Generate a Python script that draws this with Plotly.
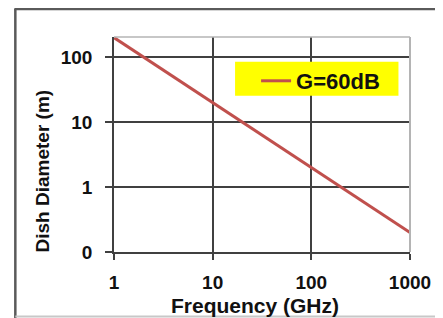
import plotly.graph_objects as go

# ---- data ----
freq_ghz = [1, 10, 100, 1000]
diameter_m = [200, 20, 2, 0.2]
series_name = "G=60dB"
x_tick_vals = [1, 10, 100, 1000]
x_tick_text = ["1", "10", "100", "1000"]
y_tick_vals = [0.1, 1, 10, 100]
y_tick_text = ["0", "1", "10", "100"]
x_title = "Frequency (GHz)"
y_title = "Dish Diameter (m)"

# ---- layout geometry (page has an 8px body margin) ----
OFF = 8
W, H = 435, 310
ML, MR, MT, MB = 106, 29, 29, 66
PW, PH = W - ML - MR, H - MT - MB

def px_x(px):
    return (px - OFF - ML) / PW

def px_y(py):
    return (H - MB - (py - OFF)) / PH

FONT = "Liberation Sans, Arial, sans-serif"
GRID = "#404040"

fig = go.Figure()
fig.add_trace(go.Scatter(
    x=freq_ghz, y=diameter_m, mode="lines", name=series_name,
    line=dict(color="#C0504D", width=3),
))

shapes = [
    # yellow legend box
    dict(type="rect", xref="paper", yref="paper",
         x0=px_x(236.7), x1=px_x(402.3), y0=px_y(95.7), y1=px_y(61.7),
         fillcolor="#FFFF00", line=dict(width=0), layer="above"),
    # light top/right frame of plot area
    dict(type="line", xref="paper", yref="paper", x0=0, x1=1, y0=1, y1=1,
         line=dict(color="#b4b4b4", width=1.5), layer="above"),
    dict(type="line", xref="paper", yref="paper", x0=1, x1=1, y0=0, y1=1,
         line=dict(color="#b4b4b4", width=2), layer="above"),
    # outer chart border
    dict(type="line", xref="paper", yref="paper", x0=px_x(14), x1=px_x(14),
         y0=px_y(9), y1=px_y(330), line=dict(color="#5a5a5a", width=2.5)),
    dict(type="line", xref="paper", yref="paper", x0=px_x(13), x1=px_x(460),
         y0=px_y(9), y1=px_y(9), line=dict(color="#5a5a5a", width=2.5)),
    dict(type="line", xref="paper", yref="paper", x0=px_x(14), x1=px_x(460),
         y0=px_y(316.5), y1=px_y(316.5), line=dict(color="#c8c8c8", width=2)),
]

annotations = [
    dict(text=x_title, xref="paper", yref="paper", x=px_x(257), y=px_y(305),
         xanchor="center", yanchor="middle", showarrow=False,
         font=dict(family=FONT, size=21, color="#111")),
    dict(text=y_title, xref="paper", yref="paper", x=px_x(41.5), y=px_y(171),
         xanchor="center", yanchor="middle", showarrow=False, textangle=-90,
         font=dict(family=FONT, size=19, color="#111")),
]

fig.update_layout(
    width=W, height=H,
    margin=dict(l=ML, r=MR, t=MT, b=MB, pad=0),
    paper_bgcolor="white", plot_bgcolor="white",
    font=dict(family=FONT, size=19, color="#111", weight="bold"),
    showlegend=True,
    legend=dict(x=px_x(258), y=px_y(60), xanchor="left", yanchor="top",
                bgcolor="rgba(0,0,0,0)", borderwidth=0,
                font=dict(family=FONT, size=22, color="#111", weight="bold")),
    shapes=shapes,
    annotations=annotations,
    xaxis=dict(type="log", range=[0, 3], tickvals=x_tick_vals, ticktext=x_tick_text,
               showgrid=True, gridcolor=GRID, gridwidth=1.5,
               showline=True, linecolor=GRID, linewidth=1.5,
               ticks="outside", ticklen=6, tickwidth=1.5, tickcolor=GRID,
               ticklabelstandoff=6, zeroline=False,
               tickfont=dict(family=FONT, size=19, color="#111", weight="bold")),
    yaxis=dict(type="log", range=[-1, 2.31], tickvals=y_tick_vals, ticktext=y_tick_text,
               showgrid=True, gridcolor=GRID, gridwidth=1.5,
               showline=True, linecolor=GRID, linewidth=1.5,
               ticks="outside", ticklen=7, tickwidth=1.5, tickcolor=GRID,
               ticklabelstandoff=9, zeroline=False,
               tickfont=dict(family=FONT, size=19, color="#111", weight="bold")),
)

fig.write_html("out.html")
